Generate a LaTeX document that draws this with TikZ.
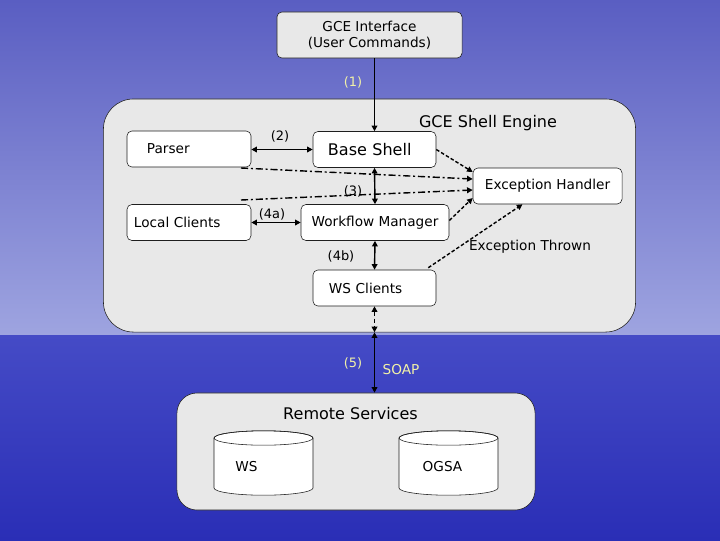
\documentclass[tikz,border=0pt]{standalone}
\usepackage{fontspec}
\setmainfont{DejaVu Sans}
\usepackage{xcolor}
\usetikzlibrary{arrows.meta,positioning,calc}

\definecolor{panelgray}{HTML}{E8E8E8}
\definecolor{edge}{HTML}{1E1E1E}
\definecolor{labelyellow}{HTML}{F2F2A8}
\definecolor{skytop}{HTML}{5A5EC2}
\definecolor{skylow}{HTML}{9EA4E0}
\definecolor{seatop}{HTML}{454BC6}
\definecolor{seabot}{HTML}{2A2EB6}

% a store drawn as an upright drum: centre, half width, half height
\newcommand{\drum}[3]{%
  \filldraw[draw=edge, fill=white]
    ($(#1)+(-#2,-#3)$) -- ($(#1)+(-#2,#3)$)
    arc[start angle=180, end angle=360, x radius=#2*0.025cm, y radius=0.18cm]
    -- ($(#1)+(#2,-#3)$)
    arc[start angle=0, end angle=180, x radius=#2*0.025cm, y radius=0.18cm] -- cycle;
  \draw[edge] ($(#1)+(0,-#3)$) ellipse[x radius=#2*0.025cm, y radius=0.18cm];
}

\begin{document}
\begin{tikzpicture}[
  x=0.025cm, y=-0.025cm,
  every node/.style={font=\fontsize{9.7}{11.6}\selectfont},
  big/.style={font=\fontsize{11.4}{13.7}\selectfont},
  num/.style={font=\fontsize{9.2}{11}\selectfont},
  yel/.style={text=labelyellow},
  panel/.style={draw=edge, fill=panelgray, inner sep=0pt},
  box/.style={draw=edge, fill=white, rounded corners=3.5pt,
    minimum height=0.9cm, inner sep=0pt},
  link/.style={line width=1pt, <->},
  dotlink/.style={line width=1pt, ->, dash pattern=on 2.5pt off 1.5pt},
  dashdot/.style={line width=1pt, ->, dash pattern=on 5pt off 2pt on 1.5pt off 2pt},
  >={Triangle[length=4pt,width=4pt]}
]
\useasboundingbox (0,0) rectangle (720,540);

% background: sky and sea
\shade[top color=skytop, bottom color=skylow] (0,0) rectangle (720,335);
\shade[top color=seatop, bottom color=seabot] (0,335) rectangle (720,540);

% panels
\node[panel, rounded corners=0.75cm, minimum width=13.3cm, minimum height=5.825cm]
  (engine) at (369.5,215.5) {};
\node[panel, rounded corners=0.5cm, minimum width=8.95cm, minimum height=2.925cm]
  (remote) at (356,451.5) {};
\node[panel, rounded corners=3.5pt, minimum width=4.625cm, minimum height=1.15cm,
  align=center] (iface) at (369.5,35) {GCE Interface\\(User Commands)};

\node[big] (engtitle) at (488,123) {GCE Shell Engine};
\node[big] (remtitle) at (350.5,414) {Remote Services};

% engine components
\node[box, text width=2.1cm, inner xsep=0.5cm, align=left] (parser) at (189,149) {Parser};
\node[box, big, text width=2.325cm, inner xsep=0.375cm, align=left] (base) at (374.5,149.5) {Base Shell};
\node[box, minimum width=3.725cm] (handler) at (547.5,186) {Exception Handler};
\node[box, text width=2.75cm, inner xsep=0.175cm, align=left] (local) at (189,222.5) {Local Clients};
\node[box, minimum width=3.7cm] (wfm) at (375,222.5) {Workflow Manager};
\node[box, text width=2.275cm, inner xsep=0.4cm, align=left] (wsc) at (374.5,288) {WS Clients};

% remote stores
\drum{263.5,463}{49.5}{25}
\drum{448.5,463}{49.5}{25}
\node (ws) at (246.5,467) {WS};
\node (ogsa) at (442.5,467) {OGSA};

% numbered links
\draw[line width=1pt, ->] (iface.south -| base.north) -- (base.north);
\node[num, yel] (n1) at (353,82) {(1)};
\draw[link] (parser.east |- base.west) -- (base.west);
\node[num] (n2) at (280,136) {(2)};
\draw[link] (base.south) -- (wfm.north);
\node[num] (n3) at (353,191) {(3)};
\draw[link] (local.east) -- (wfm.west);
\node[num] (n4a) at (272,214) {(4a)};
\draw[link] (wfm.south) -- (wsc.north);
\node[num] (n4b) at (341,256) {(4b)};

\coordinate (gate) at (wsc.south |- engine.south);
\draw[link, dash pattern=on 3pt off 2pt] (wsc.south) -- (gate);
\draw[link] (gate) -- (remote.north -| gate);
\node[num, yel] (n5) at (353,363) {(5)};
\node[yel] (soap) at (401,370) {SOAP};

% exception paths
\coordinate (pfrom) at (241,168);
\coordinate (lfrom) at (241,200);
\draw[dotlink] (base.east) -- ($(handler.west)+(0,-14)$);
\draw[dashdot] (pfrom) -- ($(handler.west)+(0,-7)$);
\draw[dashdot] (lfrom) -- ($(handler.west)+(0,4)$);
\draw[dotlink] ($(wfm.east)+(0,-2)$) -- ($(handler.west)+(0,12)$);
\draw[dotlink] ($(wsc.north east)+(-8,-2)$) -- ($(handler.south)+(-25,0)$);
\node (thrown) at (530,247) {Exception Thrown};
\end{tikzpicture}
\end{document}
